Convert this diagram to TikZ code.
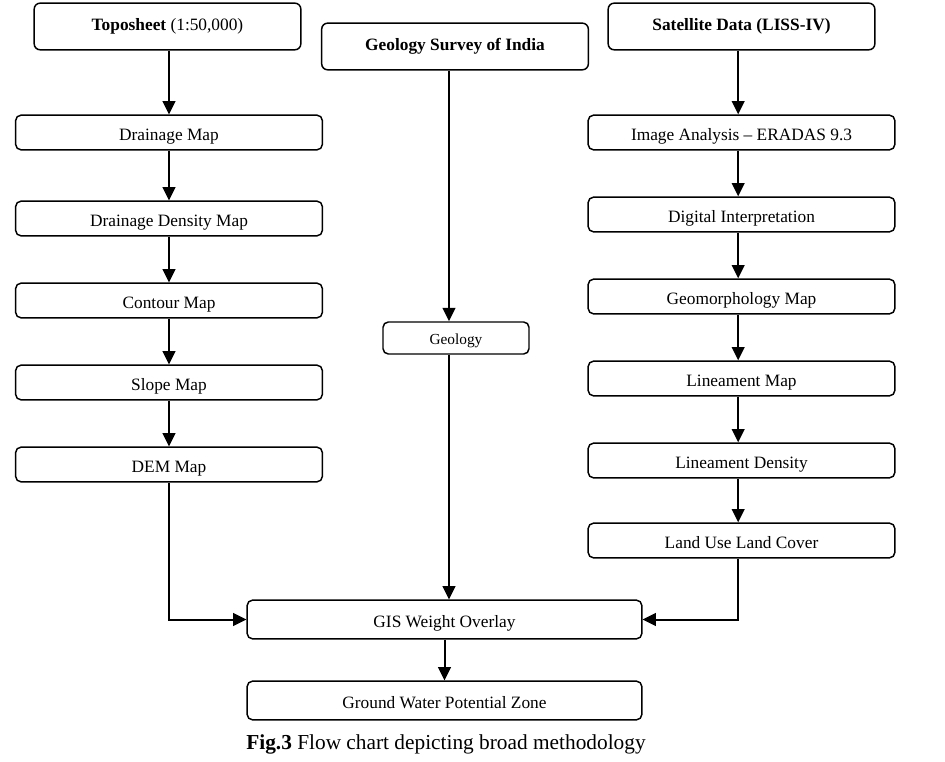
\documentclass[tikz,border=0pt]{standalone}
\usepackage{fontspec}
\setmainfont{Liberation Serif}
\usetikzlibrary{arrows.meta}

\begin{document}
\begin{tikzpicture}[x=0.75pt,y=-0.75pt,
    every node/.style={inner sep=0pt,font=\fontsize{13}{15}\selectfont},
    topbox/.style={draw,rounded corners=4.5pt,line width=1.1pt,minimum width=200pt,minimum height=35pt},
    colbox/.style={draw,rounded corners=4pt,line width=1.1pt,minimum width=230pt,minimum height=26pt,
        text height=12pt,text depth=0pt},
    flow/.style={-{Triangle[length=10pt,width=9.5pt]},line width=1.5pt}]

\useasboundingbox (0,0) rectangle (945,762);

% Sources
\node[topbox] (topo) at (167.5,26.5) {\textbf{Toposheet} (1:50,000)};
\node[topbox] (gsi)  at (455,46.5)   {\textbf{Geology Survey of India}};
\node[topbox] (sat)  at (741.5,26.5) {\textbf{Satellite Data (LISS-IV)}};

% ---- Left column ----
\node[colbox] (drain)   at (169,132.5) {Drainage Map};
\node[colbox] (density) at (169,218.5) {Drainage Density Map};
\node[colbox] (contour) at (169,300.5) {Contour Map};
\node[colbox] (slope)   at (169,382.5) {Slope Map};
\node[colbox] (dem)     at (169,464.5) {DEM Map};

% ---- Middle ----
\node[colbox,minimum width=109.5pt,minimum height=24pt,text height=10.5pt,
    font=\fontsize{11.5}{13}\selectfont] (geo) at (456,338) {Geology};

% ---- Right column ----
\node[colbox] (image)    at (741.5,132.5) {Image Analysis -- ERADAS 9.3};
\node[colbox] (digital)  at (741.5,214.5) {Digital Interpretation};
\node[colbox] (geomorph) at (741.5,296.5) {Geomorphology Map};
\node[colbox] (linmap)   at (741.5,378.5) {Lineament Map};
\node[colbox] (lindens)  at (741.5,460.5) {Lineament Density};
\node[colbox] (lulc)     at (741.5,540.5) {Land Use Land Cover};

% ---- Output ----
\node[colbox,minimum width=296pt,minimum height=29pt] (gis)  at (444.5,619.5) {GIS Weight Overlay};
\node[colbox,minimum width=296pt,minimum height=29pt] (gwpz) at (444.5,700.5) {Ground Water Potential Zone};

\node[font=\fontsize{16}{19}\selectfont] (cap) at (446,744) {\textbf{Fig.3} Flow chart depicting broad methodology};

% Arrows
\draw[flow] (topo.south -| drain) -- (drain.north);
\draw[flow] (drain) -- (density);
\draw[flow] (density) -- (contour);
\draw[flow] (contour) -- (slope);
\draw[flow] (slope) -- (dem);

\draw[flow] ([xshift=-2.5pt]sat.south) -- ([xshift=-2.5pt]image.north);
\draw[flow] ([xshift=-2.5pt]image.south) -- ([xshift=-2.5pt]digital.north);
\draw[flow] ([xshift=-2.5pt]digital.south) -- ([xshift=-2.5pt]geomorph.north);
\draw[flow] ([xshift=-2.5pt]geomorph.south) -- ([xshift=-2.5pt]linmap.north);
\draw[flow] ([xshift=-2.5pt]linmap.south) -- ([xshift=-2.5pt]lindens.north);
\draw[flow] ([xshift=-2.5pt]lindens.south) -- ([xshift=-2.5pt]lulc.north);

\draw[flow] ([xshift=-4.5pt]gsi.south) -- ([xshift=-4.5pt]gsi.south |- geo.north);
\draw[flow] ([xshift=-4.5pt]gsi.south |- geo.south) -- ([xshift=-4.5pt]gsi.south |- gis.north);
\draw[flow] (dem.south) |- (gis.west);
\draw[flow] ([xshift=-2.5pt]lulc.south) |- (gis.east);
\draw[flow] (gis) -- (gwpz);

\end{tikzpicture}
\end{document}
